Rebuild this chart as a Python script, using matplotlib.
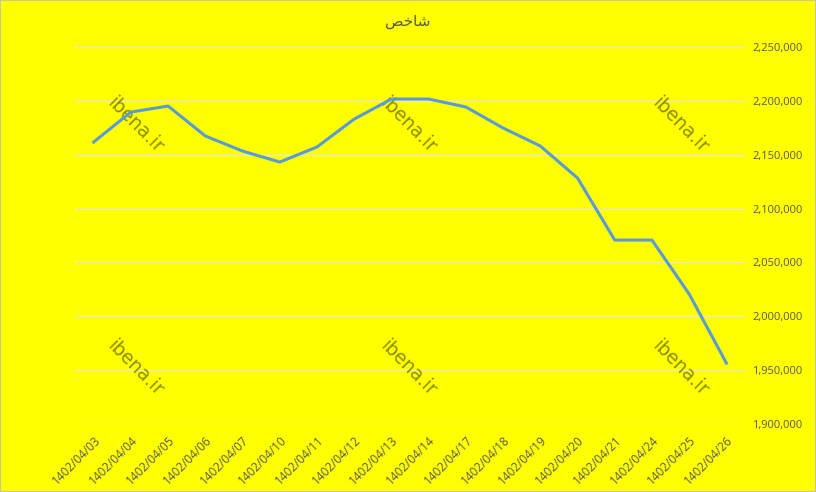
import matplotlib.pyplot as plt
from matplotlib.ticker import FuncFormatter, MultipleLocator
from matplotlib.patches import Rectangle

dates = ['1402/04/03', '1402/04/04', '1402/04/05', '1402/04/06', '1402/04/07',
         '1402/04/10', '1402/04/11', '1402/04/12', '1402/04/13', '1402/04/14',
         '1402/04/17', '1402/04/18', '1402/04/19', '1402/04/20', '1402/04/21',
         '1402/04/24', '1402/04/25', '1402/04/26']
index_values = [2161800, 2189600, 2195200, 2167400, 2153400, 2143200, 2157200,
                2183100, 2201700, 2201700, 2194300, 2174800, 2158100, 2128400,
                2070800, 2070800, 2020700, 1956600]
# "شاخص" written in Arabic presentation forms, visual order
title = '\uFEBA\uFEA7\uFE8E\uFEB7'
watermark = 'ibena.ir'

yellow = '#FFFF00'
fig = plt.figure(figsize=(8.16, 4.92), dpi=100, facecolor=yellow)
ax = fig.add_axes([0.092, 0.138, 0.821, 0.7665])
ax.set_facecolor(yellow)

x = range(len(dates))
ax.plot(x, index_values, color='#5B9BD5', linewidth=2.2, solid_joinstyle='round', zorder=3)

ax.set_ylim(1900000, 2250000)
ax.set_xlim(-0.5, len(dates) - 0.5)
ax.yaxis.set_major_locator(MultipleLocator(50000))
ax.yaxis.set_major_formatter(FuncFormatter(lambda v, p: f'{int(v):,}'))
ax.yaxis.tick_right()
ax.grid(axis='y', color='#E6E6E6', linewidth=0.9)
ax.set_axisbelow(True)
for s in ax.spines.values():
    s.set_visible(False)

ax.set_xticks(list(x))
ax.set_xticklabels(dates, rotation=45, ha='right', va='top', rotation_mode='anchor',
                   fontsize=8.5, color='#595959', family='Open Sans')
ax.tick_params(axis='x', length=0, pad=7)
ax.tick_params(axis='y', length=0, pad=5)
for lab in ax.get_yticklabels():
    lab.set_family('Open Sans')
    lab.set_fontsize(8)
    lab.set_color('#595959')

fig.text(0.5, 0.957, title, ha='center', va='center', fontsize=11, color='#595959',
         family='DejaVu Sans')

for wx in [0.09, 0.497, 0.903]:
    for wy in [0.793, 0.148]:
        ax.text(wx, wy, watermark, transform=ax.transAxes, rotation=-45,
                ha='center', va='center', fontsize=13.5, color='#8F8F00', zorder=2)

fig.patches.append(Rectangle((0, 0), 1, 1, transform=fig.transFigure, fill=False,
                             edgecolor='#BFBFBF', linewidth=1.2))

fig.savefig('out.png', dpi=100, facecolor=yellow)
